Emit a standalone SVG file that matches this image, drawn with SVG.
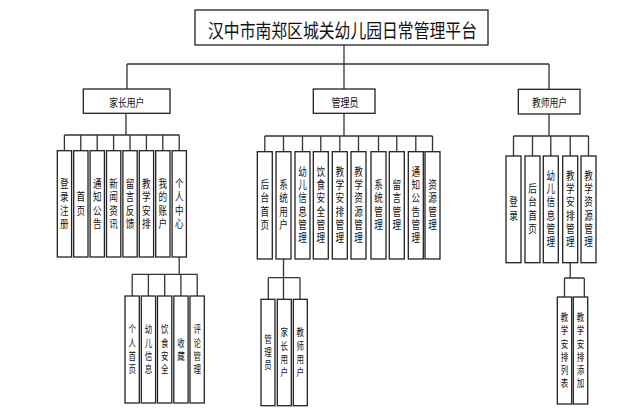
<svg xmlns="http://www.w3.org/2000/svg" width="633" height="420" viewBox="0 0 633 420">
<style>
.b{fill:#fff;stroke:#222;stroke-width:1.3}
.c{fill:none;stroke:#333;stroke-width:1.3}
text{font-family:"Noto Sans CJK SC","Noto Sans CJK JP",sans-serif;fill:#111}
.t{font-size:19px;text-anchor:middle;dominant-baseline:central}
.g{font-size:11px;text-anchor:middle;dominant-baseline:central}
.v{font-size:11px;writing-mode:vertical-rl;text-anchor:middle;letter-spacing:2.3px}
.s{font-size:10px;writing-mode:vertical-rl;text-anchor:middle;letter-spacing:3.2px}
</style>
<rect width="633" height="420" fill="#fff"/>
<g id="connectors">
<path class="c" d="M344 45V64M127 64H549M127 64V89M344 64V89M549 64V89"/>
<path class="c" d="M126 113.3V135M64.4 135H179.3M64.4 135V150.7M80.8 135V150.7M97.2 135V150.7M113.6 135V150.7M130 135V150.7M146.4 135V150.7M162.8 135V150.7M179.2 135V150.7"/>
<path class="c" d="M179.2 257V274.3M132.2 274.3H197.2M132.2 274.3V296M148.4 274.3V296M164.7 274.3V296M180.9 274.3V296M197.2 274.3V296"/>
<path class="c" d="M344 113.3V136M264.8 136H432.5M264.8 136V151.7M283.5 136V151.7M302.5 136V151.7M320.8 136V151.7M339.8 136V151.7M358.5 136V151.7M378.5 136V151.7M396.8 136V151.7M415.8 136V151.7M432.5 136V151.7"/>
<path class="c" d="M283.5 259V277.7M268.3 277.7H300M268.3 277.7V299.3M283.5 277.7V299.3M300 277.7V299.3"/>
<path class="c" d="M549 114V136M513.5 136H588.5M513.5 136V156M532.5 136V156M550.8 136V156M570.2 136V156M588.5 136V156"/>
<path class="c" d="M570.2 262.7V278M564.5 278H584.3M564.5 278V297M584.3 278V297"/>
</g>
<g id="root"><rect class="b" x="195" y="10" width="293" height="35"/><text class="t" x="342.5" y="29" textLength="269" lengthAdjust="spacingAndGlyphs">汉中市南郑区城关幼儿园日常管理平台</text></g>
<g id="parent"><rect class="b" x="83.3" y="89" width="86.7" height="24.3"/><text class="g" x="126.8" y="101.5" textLength="35" lengthAdjust="spacingAndGlyphs">家长用户</text></g>
<g id="admin"><rect class="b" x="313.3" y="89" width="61.7" height="24.3"/><text class="g" x="345" y="101.5" textLength="27" lengthAdjust="spacingAndGlyphs">管理员</text></g>
<g id="teacher"><rect class="b" x="518.3" y="89.3" width="61.7" height="24.7"/><text class="g" x="549.5" y="101.8" textLength="35" lengthAdjust="spacingAndGlyphs">教师用户</text></g>

<g id="p1"><rect class="b" x="57.3" y="150.7" width="14.3" height="106.3"/><text class="v" transform="translate(64.4 205) scale(0.78 1)">登录注册</text></g>
<g id="p2"><rect class="b" x="73.7" y="150.7" width="14.3" height="106.3"/><text class="v" transform="translate(80.8 205) scale(0.78 1)">首页</text></g>
<g id="p3"><rect class="b" x="90.1" y="150.7" width="14.3" height="106.3"/><text class="v" transform="translate(97.2 205) scale(0.78 1)">通知公告</text></g>
<g id="p4"><rect class="b" x="106.5" y="150.7" width="14.3" height="106.3"/><text class="v" transform="translate(113.6 205) scale(0.78 1)">新闻资讯</text></g>
<g id="p5"><rect class="b" x="122.9" y="150.7" width="14.3" height="106.3"/><text class="v" transform="translate(130 205) scale(0.78 1)">留言反馈</text></g>
<g id="p6"><rect class="b" x="139.3" y="150.7" width="14.3" height="106.3"/><text class="v" transform="translate(146.4 205) scale(0.78 1)">教学安排</text></g>
<g id="p7"><rect class="b" x="155.7" y="150.7" width="14.3" height="106.3"/><text class="v" transform="translate(162.8 205) scale(0.78 1)">我的账户</text></g>
<g id="p8"><rect class="b" x="172.1" y="150.7" width="14.3" height="106.3"/><text class="v" transform="translate(179.2 205) scale(0.78 1)">个人中心</text></g>

<g id="p8a"><rect class="b" x="125" y="296" width="14.3" height="107"/><text class="s" transform="translate(132.2 351) scale(0.75 1)">个人首页</text></g>
<g id="p8b"><rect class="b" x="141.3" y="296" width="14.3" height="107"/><text class="s" transform="translate(148.4 351) scale(0.75 1)">幼儿信息</text></g>
<g id="p8c"><rect class="b" x="157.5" y="296" width="14.3" height="107"/><text class="s" transform="translate(164.7 351) scale(0.75 1)">饮食安全</text></g>
<g id="p8d"><rect class="b" x="173.8" y="296" width="14.3" height="107"/><text class="s" transform="translate(180.9 351) scale(0.75 1)">收藏</text></g>
<g id="p8e"><rect class="b" x="190" y="296" width="14.3" height="107"/><text class="s" transform="translate(197.2 351) scale(0.75 1)">评论管理</text></g>

<g id="a1"><rect class="b" x="257.3" y="151.7" width="15" height="107.3"/><text class="v" transform="translate(264.8 206) scale(0.78 1)">后台首页</text></g>
<g id="a2"><rect class="b" x="276" y="151.7" width="15" height="107.3"/><text class="v" transform="translate(283.5 206) scale(0.78 1)">系统用户</text></g>
<g id="a3"><rect class="b" x="295" y="151.7" width="15" height="107.3"/><text class="v" transform="translate(302.5 206) scale(0.78 1)">幼儿信息管理</text></g>
<g id="a4"><rect class="b" x="313.3" y="151.7" width="15" height="107.3"/><text class="v" transform="translate(320.8 206) scale(0.78 1)">饮食安全管理</text></g>
<g id="a5"><rect class="b" x="332.3" y="151.7" width="15" height="107.3"/><text class="v" transform="translate(339.8 206) scale(0.78 1)">教学安排管理</text></g>
<g id="a6"><rect class="b" x="351" y="151.7" width="15" height="107.3"/><text class="v" transform="translate(358.5 206) scale(0.78 1)">教学资源管理</text></g>
<g id="a7"><rect class="b" x="371" y="151.7" width="15" height="107.3"/><text class="v" transform="translate(378.5 206) scale(0.78 1)">系统管理</text></g>
<g id="a8"><rect class="b" x="389.3" y="151.7" width="15" height="107.3"/><text class="v" transform="translate(396.8 206) scale(0.78 1)">留言管理</text></g>
<g id="a9"><rect class="b" x="408.3" y="151.7" width="15" height="107.3"/><text class="v" transform="translate(415.8 206) scale(0.78 1)">通知公告管理</text></g>
<g id="a10"><rect class="b" x="425" y="151.7" width="15" height="107.3"/><text class="v" transform="translate(432.5 206) scale(0.78 1)">资源管理</text></g>

<g id="a2a"><rect class="b" x="261" y="299.3" width="14" height="106.4"/><text class="s" transform="translate(268 354) scale(0.75 1)">管理员</text></g>
<g id="a2b"><rect class="b" x="277.3" y="299.3" width="14" height="106.4"/><text class="s" transform="translate(284.3 354) scale(0.75 1)">家长用户</text></g>
<g id="a2c"><rect class="b" x="293.3" y="299.3" width="14" height="106.4"/><text class="s" transform="translate(300.3 354) scale(0.75 1)">教师用户</text></g>

<g id="t1"><rect class="b" x="506" y="156" width="15" height="106.7"/><text class="v" transform="translate(513.5 210) scale(0.78 1)">登录</text></g>
<g id="t2"><rect class="b" x="525" y="156" width="15" height="106.7"/><text class="v" transform="translate(532.5 210) scale(0.78 1)">后台首页</text></g>
<g id="t3"><rect class="b" x="543.3" y="156" width="15" height="106.7"/><text class="v" transform="translate(550.8 210) scale(0.78 1)">幼儿信息管理</text></g>
<g id="t4"><rect class="b" x="562.7" y="156" width="15" height="106.7"/><text class="v" transform="translate(570.2 210) scale(0.78 1)">教学安排管理</text></g>
<g id="t5"><rect class="b" x="581" y="156" width="15" height="106.7"/><text class="v" transform="translate(588.5 210) scale(0.78 1)">教学资源管理</text></g>

<g id="t4a"><rect class="b" x="557.3" y="297" width="14.4" height="107"/><text class="s" transform="translate(564.5 352) scale(0.75 1)">教学安排列表</text></g>
<g id="t4b"><rect class="b" x="573.3" y="297" width="14.4" height="107"/><text class="s" transform="translate(580.5 352) scale(0.75 1)">教学安排添加</text></g>
</svg>
